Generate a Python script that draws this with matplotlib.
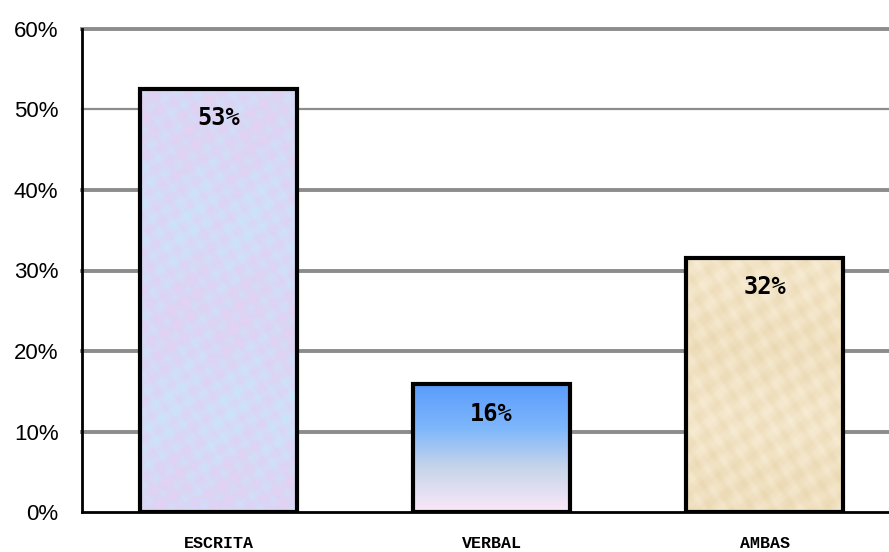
import numpy as np
import matplotlib
matplotlib.use("Agg")
import matplotlib.pyplot as plt
from matplotlib.colors import LinearSegmentedColormap

categories = ["ESCRITA", "VERBAL", "AMBAS"]
values = [52.6, 15.9, 31.6]
labels = ["53%", "16%", "32%"]
yticks = [0, 10, 20, 30, 40, 50, 60]
ytick_labels = ["0%", "10%", "20%", "30%", "40%", "50%", "60%"]

fig = plt.figure(figsize=(8.89, 5.52), dpi=100)
ax = fig.add_axes([82/889, 40/552, 1 - 82/889, (512-29)/552])
ax.set_xlim(-0.5, 2.456)
ax.set_ylim(0, 60)

x = np.arange(len(categories))
width = 0.575
bars = ax.bar(x, values, width=width, facecolor="none", edgecolor="black",
              linewidth=3, zorder=4)

def fill_bar(bar, img, cmap):
    x0, y0 = bar.get_x(), bar.get_y()
    w, h = bar.get_width(), bar.get_height()
    im = ax.imshow(img, cmap=cmap, extent=[x0, x0 + w, y0, y0 + h],
                   aspect="auto", origin="lower", zorder=3, interpolation="bicubic")
    im.set_clip_path(bar)

# ESCRITA: pastel blue/pink mottled texture (deterministic pattern)
yy, xx = np.mgrid[0:200, 0:60]
tex = (np.sin(xx * 0.93 + yy * 0.37) + np.sin(xx * 0.53 - yy * 0.71) +
       0.7 * np.sin(xx * 1.71 + yy * 1.13) + 0.8 * np.sin(yy * 0.071 + 1.3)
       + 0.6 * np.sin(xx * 0.27 - yy * 0.093) + 0.5 * np.sin(xx * 2.3 - yy * 1.9)) / 4.2
cm1 = LinearSegmentedColormap.from_list("c1", ["#c3e9fb", "#d2def7", "#dcd3f4", "#ecd0f0"])
fill_bar(bars[0], tex, cm1)

# VERBAL: vertical gradient
grad = np.linspace(0, 1, 200).reshape(-1, 1)
cm2 = LinearSegmentedColormap.from_list("c2", [(0, "#fbe8f8"), (0.35, "#c6d4ea"),
                                              (0.65, "#7fb7fb"), (1, "#5a9cfd")])
fill_bar(bars[1], grad, cm2)

# AMBAS: beige parchment
yy3, xx3 = np.mgrid[0:120, 0:60]
tex3 = (np.sin(xx3 * 0.83 + yy3 * 0.23) + np.sin(xx3 * 0.41 - yy3 * 0.57) +
        0.6 * np.sin(xx3 * 1.53 + yy3 * 0.91) + 0.6 * np.sin(yy3 * 0.093 + 0.7)
        + 0.5 * np.sin(xx3 * 2.1 - yy3 * 1.7)) / 3.6
cm3 = LinearSegmentedColormap.from_list("c3", ["#f8eed8", "#f1e2c3", "#e9d6ae"])
fill_bar(bars[2], tex3, cm3)

for b, lab in zip(bars, labels):
    ax.text(b.get_x() + b.get_width() / 2, b.get_height() - 2.2, lab,
            ha="center", va="top", fontsize=17, fontweight="bold",
            family="DejaVu Sans Mono", zorder=5)

ax.set_xticks(x)
ax.set_xticklabels(categories, family="Liberation Mono", fontweight="bold", fontsize=12)
ax.set_yticks(yticks)
ax.set_yticklabels(ytick_labels, family="Liberation Sans", fontsize=16)
ax.tick_params(axis="both", length=0)
ax.tick_params(axis="x", pad=17)
ax.tick_params(axis="y", pad=17)

ax.grid(axis="y", color="#8c8c8c", linewidth=2.8, zorder=1)
ax.set_axisbelow(True)
for v, gl in zip(yticks, ax.yaxis.get_gridlines()):
    gl.set_clip_on(False)
    if v == 50:
        gl.set_linewidth(1.6)
    if v == 0:
        gl.set_visible(False)

for s in ["top", "right"]:
    ax.spines[s].set_visible(False)
ax.spines["left"].set_linewidth(2)
ax.spines["bottom"].set_linewidth(2)

fig.savefig("out.png", dpi=100)
